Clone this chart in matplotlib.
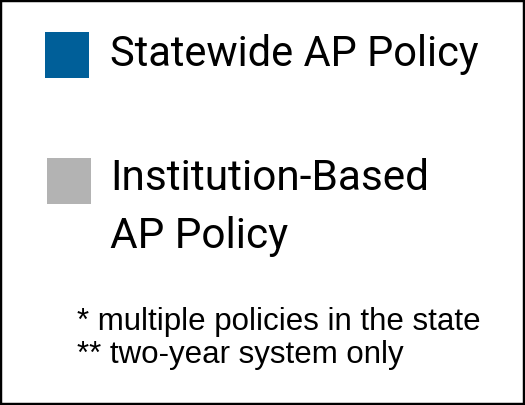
import matplotlib
matplotlib.use("Agg")
from matplotlib import pyplot as plt
from matplotlib.patches import Rectangle

# legend entries
legend_labels = ["Statewide AP Policy", "Institution-Based\nAP Policy"]
legend_colors = ["#005f99", "#b3b3b3"]
footnotes = ["* multiple policies in the state", "** two-year system only"]

W, H = 525, 405

fig = plt.figure(figsize=(W / 100, H / 100), dpi=100)
ax = fig.add_axes([0, 0, 1, 1])
ax.set_xlim(0, W)
ax.set_ylim(H, 0)
ax.set_xticks([])
ax.set_yticks([])
for s in ax.spines.values():
    s.set_linewidth(3.2)
    s.set_color("black")

# swatches and labels (each label line drawn on its own baseline)
sq_pos = [(45, 32), (47, 158)]
line_y = [[66], [190, 248]]
txt_size = [30, 30.5]
for i in range(len(legend_labels)):
    x0, y0 = sq_pos[i]
    ax.add_patch(Rectangle((x0, y0), 44, 46, facecolor=legend_colors[i], edgecolor="none"))
    for j, line in enumerate(legend_labels[i].split("\n")):
        ax.text(110, line_y[i][j], line, fontsize=txt_size[i], family="Roboto",
                va="baseline", ha="left")

foot_y = [330, 363]
for k in range(len(footnotes)):
    ax.text(77, foot_y[k], footnotes[k], fontsize=22.5, family="Liberation Sans",
            va="baseline", ha="left")

fig.savefig("out.png", dpi=100)
